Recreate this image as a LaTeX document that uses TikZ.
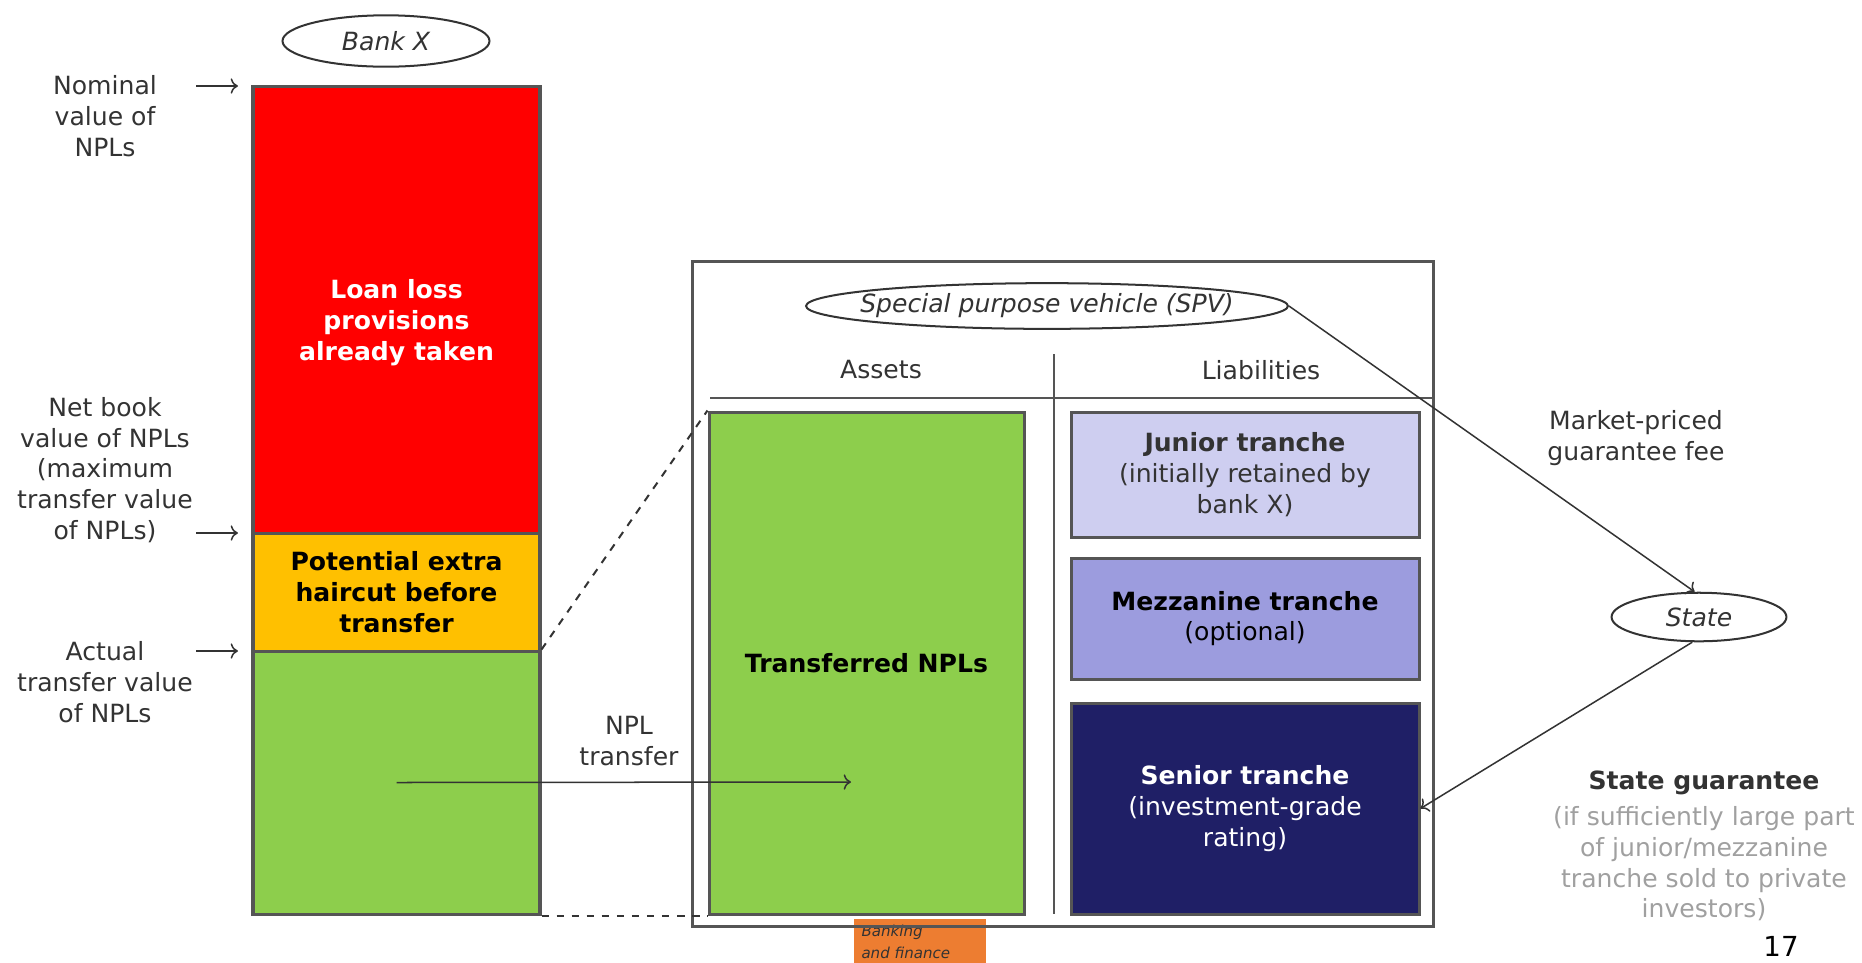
\documentclass[tikz,border=0pt]{standalone}
\usepackage{fontspec}
\setmainfont{DejaVu Sans}
\usetikzlibrary{arrows.meta}
\usetikzlibrary{shapes.geometric}
\usetikzlibrary{fit}
\definecolor{lossred}{RGB}{255,0,0}
\definecolor{cut}{RGB}{255,192,0}
\definecolor{npl}{RGB}{141,206,76}
\definecolor{jun}{RGB}{206,206,240}
\definecolor{mez}{RGB}{156,156,222}
\definecolor{sen}{RGB}{31,31,102}
\definecolor{ink}{RGB}{51,51,51}
\definecolor{pale}{RGB}{160,160,160}
\definecolor{rim}{RGB}{85,85,85}
\definecolor{tag}{RGB}{237,125,49}

\begin{document}
\begin{tikzpicture}[
    x=0.014cm, y=-0.014cm,
    every node/.style={
        align=center, text=ink,
        font=\fontsize{10}{12.3}\selectfont
    },
    oval/.style={
        ellipse, draw=ink, thick, inner sep=0,
        font=\fontsize{10}{12.3}\selectfont\itshape
    },
    blk/.style={
        draw=rim, line width=1.2pt, inner sep=0
    },
    b/.style={
        font=\fontsize{10}{12.3}\selectfont\bfseries
    },
    tr/.style={
        draw=ink, line width=0.6pt,
        -{Computer Modern Rightarrow[]}
    },
    link/.style={
        draw=ink, dashed, line width=0.8pt
    },
    rule/.style={
        draw=rim, line width=0.9pt
    }
]
    \useasboundingbox (0,0) rectangle (1862,962);

    % bank X balance bar
    \node[oval, minimum width=2.9cm, minimum height=0.72cm] (bank) at (386,41) {Bank X};
    \node[blk, fill=lossred, fit={(253,86)(540,533)}] (loss) {};
    \node[blk, fill=cut, fit={(253,533)(540,651)}] (cut) {};
    \node[blk, fill=npl, fit={(253,651)(540,914)}] (keep) {};
    \node[b, text=white, yshift=-0.18cm] (loss-t) at (loss.center) {Loan loss\\provisions\\already taken};
    \node[b, text=black] (cut-t) at (cut.center) {Potential extra\\haircut before\\transfer};

    \node (nom) at (105,116) {Nominal\\value of\\NPLs};
    \node (net) at (105,470) {Net book\\value of NPLs\\(maximum\\transfer value\\of NPLs)};
    \node (act) at (105,682) {Actual\\transfer value\\of NPLs};
    \foreach \y/\n in {86/nom,533/net,651/act} {
        \coordinate (\n-s) at (196,\y);
        \coordinate (\n-e) at (238,\y);
        \draw[tr] (\n-s) -- (\n-e);
    }

    % label at the foot
    \node[fill=tag, minimum width=1.86cm, minimum height=0.8cm, inner sep=0, anchor=north west] (tag) at (853,918) {};
    \node[anchor=north west, inner sep=0, align=left, text=ink,
        font=\fontsize{6}{8.6}\selectfont\itshape] (tagtext) at (861,925) {Banking\\and finance};

    % SPV
    \node[blk, fit={(692,261)(1433,926)}] (vehicle) {};
    \node[oval, minimum width=6.75cm, minimum height=0.64cm] (spv) at (1047,306) {\makebox[0pt]{Special purpose vehicle (SPV)}};
    \node (assets) at (881,370) {Assets};
    \node (liab) at (1261,370) {Liabilities};
    \draw[rule] (710,398) -- (1433,398);
    \draw[rule] (1054,354) -- (1054,914);

    \node[blk, fill=npl, fit={(709,412)(1024,914)}] (tnpl) {};
    \node[blk, fill=jun, fit={(1071,412)(1419,537)}] (junior) {};
    \node[blk, fill=mez, fit={(1071,558)(1419,679)}] (mezz) {};
    \node[blk, fill=sen, fit={(1071,703)(1419,914)}] (senior) {};
    \node[b, text=black] (tnpl-t) at (tnpl.center) {Transferred NPLs};
    \node (junior-t) at (junior.center) {\textbf{Junior tranche}\\(initially retained by\\bank X)};
    \node[text=black] (mezz-t) at (mezz.center) {\textbf{Mezzanine tranche}\\(optional)};
    \node[text=white] (senior-t) at (senior.center) {\textbf{Senior tranche}\\(investment-grade\\rating)};

    \draw[link] (keep.north east) -- (tnpl.north west);
    \draw[link] (keep.south east) -- (tnpl.south west);

    \node (move) at (629,741) {NPL\\transfer};
    \coordinate (move-e) at (851,782);
    \draw[tr] (keep.center) -- (move-e);

    % state
    \node[oval, minimum width=2.45cm, minimum height=0.68cm] (state) at (1699,617) {State};
    \node (fee) at (1636,438) {Market-priced\\guarantee fee};
    \node (guar) at (1704,846) {\textbf{State guarantee}\\[2pt]\textcolor{pale}{(if sufficiently large part}\\\textcolor{pale}{of junior/mezzanine}\\\textcolor{pale}{tranche sold to private}\\\textcolor{pale}{investors)}};
    \draw[tr] (spv.east) -- (state.100);
    \draw[tr] (state.255) -- (senior.east);

    \node[font=\fontsize{11}{13}\selectfont, text=black] (page) at (1781,946) {17};
\end{tikzpicture}
\end{document}
